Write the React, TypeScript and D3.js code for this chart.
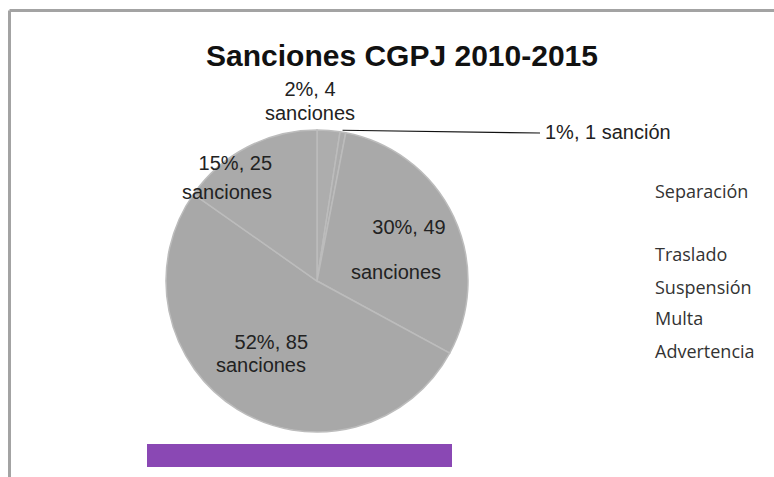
import React from "react";
import * as d3 from "d3";

const categories = ["Separación", "Traslado", "Suspensión", "Multa", "Advertencia"];
const values = [4, 1, 49, 85, 25];
const labelLines = [
  ["2%, 4", "sanciones"],
  ["1%, 1 sanción"],
  ["30%, 49", "sanciones"],
  ["52%, 85", "sanciones"],
  ["15%, 25", "sanciones"],
];
const title = "Sanciones CGPJ 2010-2015";

const W = 774;
const H = 477;
const cx = 317;
const cy = 281;
const R = 151;

// label placement (x, y, anchor) per line per slice
const labelPos: [number, number, string][][] = [
  [[310, 96, "middle"], [310, 120, "middle"]],
  [[545, 139, "start"]],
  [[409, 234, "middle"], [396, 279, "middle"]],
  [[308, 349, "end"], [306, 372, "end"]],
  [[272, 170, "end"], [272, 199, "end"]],
];
const legendY = [192, 255, 288, 319, 352];

export default function App() {
  const pie = d3
    .pie<number>()
    .sort(null)
    .value((d) => d)
    .startAngle(0)
    .endAngle(2 * Math.PI);
  const arcs = pie(values);
  const arc = d3.arc<d3.PieArcDatum<number>>().innerRadius(0).outerRadius(R);
  const fills = ["#adadad", "#ababab", "#a9a9a9", "#a8a8a8", "#aaaaaa"];

  // leader for the small slice
  const small = arcs[1];
  const midA = (small.startAngle + small.endAngle) / 2;
  const lx0 = cx + Math.sin(midA) * (R - 2);
  const ly0 = cy - Math.cos(midA) * (R + 2);

  return (
    <svg
      width={W}
      height={H}
      style={{ position: "absolute", left: 0, top: 0, background: "#fff" }}
    >
      <rect x={0} y={0} width={W} height={H} fill="#fff" />
      {/* frame */}
      <line x1={9.5} y1={10.5} x2={W} y2={10.5} stroke="#a3a3a3" strokeWidth={3} />
      <line x1={9.5} y1={10.5} x2={9.5} y2={H} stroke="#a3a3a3" strokeWidth={3} />
      <text
        x={402}
        y={66}
        textAnchor="middle"
        fontFamily="Liberation Sans, Arial, sans-serif"
        fontWeight="bold"
        fontSize={30}
        fill="#111"
      >
        {title}
      </text>
      <g transform={`translate(${cx},${cy})`}>
        {arcs.map((a, i) => (
          <path
            key={i}
            d={arc(a) as string}
            fill={fills[i]}
            stroke="#bcbcbc"
            strokeWidth={1.5}
          />
        ))}
      </g>
      <line x1={lx0} y1={ly0} x2={540} y2={133} stroke="#111" strokeWidth={1.2} />
      {labelLines.map((lines, i) =>
        lines.map((t, j) => (
          <text
            key={`${i}-${j}`}
            x={labelPos[i][j][0]}
            y={labelPos[i][j][1]}
            textAnchor={labelPos[i][j][2] as any}
            fontFamily="Liberation Sans, Arial, sans-serif"
            fontSize={20}
            fill="#222"
          >
            {t}
          </text>
        ))
      )}
      {categories.map((c, i) => (
        <text
          key={c}
          x={655}
          y={legendY[i] + 6}
          fontFamily="Open Sans, sans-serif"
          fontSize={18}
          fill="#333"
        >
          {c}
        </text>
      ))}
      <rect x={147} y={444} width={305} height={23} fill="#8a48b4" />
    </svg>
  );
}
